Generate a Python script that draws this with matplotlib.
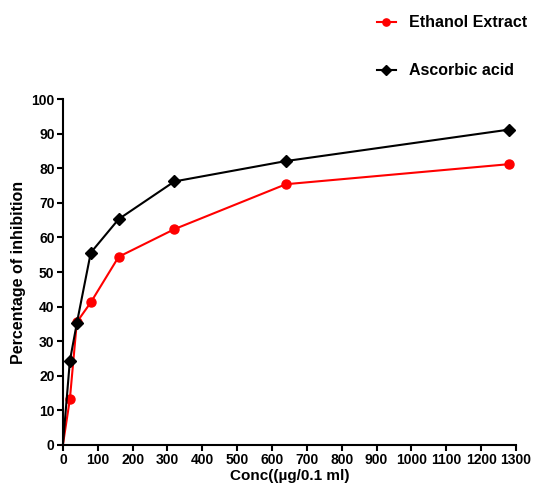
import matplotlib
matplotlib.use("Agg")
import matplotlib.pyplot as plt

conc = [0, 20, 40, 80, 160, 320, 640, 1280]
ethanol = [0, 13.2, 35.5, 41.2, 54.4, 62.4, 75.4, 81.2]
ascorbic = [0, 24.3, 35.2, 55.6, 65.3, 76.2, 82.1, 91.2]
xticks = list(range(0, 1301, 100))
yticks = list(range(0, 101, 10))

plt.rcParams['font.family'] = ['Liberation Sans', 'DejaVu Sans']
plt.rcParams['font.weight'] = 'bold'

fig = plt.figure(figsize=(5.33, 4.91), dpi=100)
ax = fig.add_axes([0.118, 0.094, 0.85, 0.704])

l1, = ax.plot(conc, ethanol, color='#ff0000', marker='o', markersize=6.5, lw=1.5,
              label='Ethanol Extract', clip_on=False, markevery=slice(1, None))
l2, = ax.plot(conc, ascorbic, color='black', marker='D', markersize=6, lw=1.5,
              label='Ascorbic acid', clip_on=False, markevery=slice(1, None))

ax.set_xlim(0, 1300)
ax.set_ylim(0, 100)
ax.set_xticks(xticks)
ax.set_yticks(yticks)
ax.spines['top'].set_visible(False)
ax.spines['right'].set_visible(False)
ax.spines['left'].set_linewidth(1.5)
ax.spines['bottom'].set_linewidth(1.5)
ax.tick_params(direction='out', length=4, width=1.5, labelsize=10, pad=2)
for lab in ax.get_xticklabels() + ax.get_yticklabels():
    lab.set_fontweight('bold')
ax.set_xlabel('Conc((µg/0.1 ml)', fontsize=11, fontweight='bold', labelpad=1)
ax.set_ylabel('Percentage of inhibition', fontsize=11.5, fontweight='bold', labelpad=4)

fig.legend(handles=[l1, l2], loc='upper left', bbox_to_anchor=(0.68, 0.998),
           frameon=False, prop={'size': 11.5, 'weight': 'bold'}, labelspacing=2.05,
           handlelength=1.2, handletextpad=0.8, markerscale=0.8)

fig.savefig('out.png', dpi=100)
